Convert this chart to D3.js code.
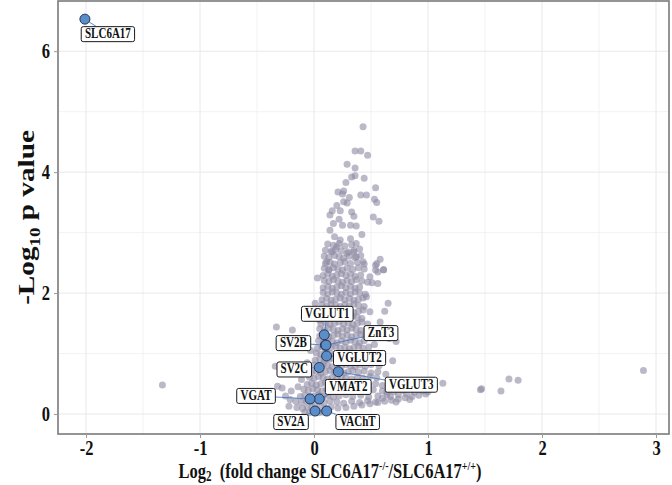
<!DOCTYPE html>
<html>
<head>
<meta charset="utf-8">
<script src="https://cdn.jsdelivr.net/npm/d3@7"></script>
<style>
  html, body { margin: 0; padding: 0; background: #ffffff; }
  svg { display: block; }
</style>
</head>
<body>
<svg id="chart" width="672" height="485"></svg>
<script>
// ---------------- DATA ----------------
const xTicks = [-2, -1, 0, 1, 2, 3];
const yTicks = [0, 2, 4, 6];
const xMinorGrid = [-1.5, -0.5, 0.5, 1.5, 2.5];
const yMinorGrid = [1, 3, 5];

// highlighted proteins: log2 fold change, -log10 p
const hlNames = ["SLC6A17", "VGLUT1", "SV2B", "ZnT3", "VGLUT2", "SV2C", "VGLUT3", "VMAT2", "VGAT", "SV2A", "VAChT"];
const hlLog2FC = [-2.01, 0.09, 0.10, 0.105, 0.11, 0.046, 0.213, 0.046, -0.035, 0.009, 0.111];
const hlLogP   = [6.53, 1.31, 1.14, 1.14, 0.96, 0.77, 0.70, 0.25, 0.25, 0.05, 0.05];

// all other quantified proteins [log2 fold change, -log10 p]
const otherProteins = [
  [0.43,4.75],[0.36,4.35],[0.41,4.35],[0.47,4.28],[0.29,4.13],[0.36,4.07],[0.33,3.92],[0.36,3.94],[0.44,3.90],[0.28,3.83],
  [0.54,3.74],[0.21,3.67],[0.26,3.69],[0.25,3.64],[0.31,3.58],[0.41,3.62],[0.46,3.62],[0.53,3.55],[0.55,3.50],[0.26,3.51],
  [0.29,3.49],[0.20,3.45],[0.16,3.36],[0.14,3.29],[0.23,3.36],[0.33,3.34],[0.35,3.27],[0.22,3.22],[0.52,3.26],[0.57,3.19],
  [0.17,3.15],[0.25,3.12],[0.32,3.12],[0.37,3.11],[0.14,3.04],[0.18,2.93],[0.23,2.88],[0.32,2.90],[0.37,2.82],[0.42,2.97],
  [0.20,2.77],[0.29,2.66],[0.35,2.68],[0.16,2.68],[0.37,2.60],[0.58,2.56],[0.54,2.46],[0.61,2.39],[0.56,2.35],[0.43,2.52],
  [0.11,2.52],[0.13,2.38],[0.49,2.27],[0.51,2.17],[0.56,2.16],[0.46,1.94],
  [0.12,2.81],[0.17,2.79],[0.22,2.82],[0.27,2.78],[0.33,2.80],
  [0.10,2.71],[0.15,2.69],[0.19,2.72],[0.24,2.70],[0.30,2.68],[0.35,2.71],[0.40,2.73],
  [0.09,2.61],[0.13,2.59],[0.18,2.62],[0.22,2.60],[0.26,2.58],[0.31,2.61],[0.36,2.59],[0.41,2.62],
  [0.10,2.49],[0.14,2.51],[0.18,2.48],[0.23,2.50],[0.27,2.52],[0.32,2.49],[0.38,2.51],[0.44,2.48],
  [0.09,2.41],[0.13,2.39],[0.17,2.42],[0.21,2.40],[0.25,2.38],[0.29,2.41],[0.34,2.39],[0.39,2.42],[0.44,2.40],
  [0.08,2.29],[0.12,2.31],[0.16,2.28],[0.20,2.30],[0.24,2.32],[0.28,2.29],[0.32,2.31],[0.36,2.28],[0.41,2.30],
  [0.09,2.21],[0.13,2.19],[0.17,2.22],[0.21,2.20],[0.25,2.18],[0.29,2.21],[0.33,2.19],[0.37,2.22],[0.42,2.20],[0.47,2.18],
  [0.08,2.09],[0.12,2.11],[0.16,2.08],[0.20,2.10],[0.24,2.12],[0.28,2.09],[0.32,2.11],[0.36,2.08],[0.40,2.10],
  [0.08,2.01],[0.12,1.99],[0.16,2.02],[0.20,2.00],[0.24,1.98],[0.28,2.01],[0.32,1.99],[0.36,2.02],[0.40,2.00],[0.45,1.98],
  [0.07,1.89],[0.11,1.91],[0.15,1.88],[0.19,1.90],[0.23,1.92],[0.27,1.89],[0.31,1.91],[0.35,1.88],[0.39,1.90],[0.43,1.92],
  [0.07,1.81],[0.11,1.79],[0.15,1.82],[0.19,1.80],[0.23,1.78],[0.27,1.81],[0.31,1.79],[0.35,1.82],[0.39,1.80],[0.44,1.78],
  [0.07,1.69],[0.11,1.71],[0.15,1.68],[0.19,1.70],[0.23,1.72],[0.27,1.69],[0.31,1.71],[0.35,1.68],[0.39,1.70],[0.43,1.72],[0.49,1.69],
  [0.06,1.61],[0.10,1.59],[0.14,1.62],[0.18,1.60],[0.22,1.58],[0.26,1.61],[0.30,1.59],[0.34,1.62],[0.38,1.60],[0.42,1.58],
  [0.06,1.49],[0.10,1.51],[0.14,1.48],[0.18,1.50],[0.22,1.52],[0.26,1.49],[0.30,1.51],[0.34,1.48],[0.38,1.50],[0.42,1.52],[0.47,1.49],
  [0.05,1.41],[0.09,1.39],[0.13,1.42],[0.17,1.40],[0.21,1.38],[0.25,1.41],[0.29,1.39],[0.33,1.42],[0.37,1.40],[0.41,1.38],[0.46,1.41],
  [0.05,1.29],[0.09,1.31],[0.13,1.28],[0.17,1.30],[0.21,1.32],[0.25,1.29],[0.29,1.31],[0.33,1.28],[0.37,1.30],[0.41,1.32],[0.45,1.29],
  [0.04,1.21],[0.08,1.19],[0.12,1.22],[0.16,1.20],[0.20,1.18],[0.24,1.21],[0.28,1.19],[0.32,1.22],[0.36,1.20],[0.40,1.18],[0.44,1.21],
  [0.03,1.09],[0.07,1.11],[0.11,1.08],[0.15,1.10],[0.19,1.12],[0.23,1.09],[0.27,1.11],[0.31,1.08],[0.35,1.10],[0.39,1.12],[0.43,1.09],[0.48,1.11],
  [0.02,1.01],[0.06,0.99],[0.10,1.02],[0.14,1.00],[0.18,0.98],[0.22,1.01],[0.26,0.99],[0.30,1.02],[0.34,1.00],[0.38,0.98],[0.42,1.01],[0.47,0.99],
  [0.01,0.89],[0.05,0.91],[0.09,0.88],[0.13,0.90],[0.17,0.92],[0.21,0.89],[0.25,0.91],[0.29,0.88],[0.33,0.90],[0.37,0.92],[0.41,0.89],[0.46,0.91],[0.52,0.88],
  [0.00,0.81],[0.04,0.79],[0.08,0.82],[0.12,0.80],[0.16,0.78],[0.20,0.81],[0.24,0.79],[0.28,0.82],[0.32,0.80],[0.36,0.78],[0.40,0.81],[0.45,0.79],[0.50,0.82],
  [-0.02,0.69],[0.02,0.71],[0.06,0.68],[0.10,0.70],[0.14,0.72],[0.18,0.69],[0.22,0.71],[0.26,0.68],[0.30,0.70],[0.34,0.72],[0.39,0.69],[0.44,0.71],[0.50,0.68],[0.56,0.70],
  [-0.04,0.61],[0.00,0.59],[0.04,0.62],[0.08,0.60],[0.12,0.58],[0.16,0.61],[0.20,0.59],[0.24,0.62],[0.28,0.60],[0.33,0.58],[0.38,0.61],[0.43,0.59],[0.49,0.62],[0.55,0.60],
  [-0.06,0.49],[-0.02,0.51],[0.02,0.48],[0.06,0.50],[0.10,0.52],[0.14,0.49],[0.18,0.51],[0.22,0.48],[0.27,0.50],[0.32,0.52],[0.37,0.49],[0.42,0.51],[0.48,0.48],[0.54,0.50],[0.60,0.47],
  [-0.09,0.41],[-0.05,0.39],[-0.01,0.42],[0.03,0.40],[0.07,0.38],[0.11,0.41],[0.15,0.39],[0.19,0.42],[0.24,0.40],[0.29,0.38],[0.34,0.41],[0.40,0.39],[0.46,0.42],[0.52,0.40],[0.60,0.38],
  [-0.12,0.29],[-0.08,0.31],[-0.04,0.28],[0.00,0.30],[0.04,0.32],[0.08,0.29],[0.12,0.31],[0.17,0.28],[0.22,0.30],[0.28,0.32],[0.34,0.29],[0.41,0.31],[0.48,0.28],[0.56,0.30],[0.64,0.32],
  [-0.16,0.21],[-0.11,0.19],[-0.07,0.22],[-0.03,0.20],[0.01,0.18],[0.05,0.21],[0.09,0.19],[0.14,0.22],[0.20,0.20],[0.26,0.18],[0.33,0.21],[0.40,0.19],[0.47,0.22],[0.54,0.20],
  [-0.15,0.11],[-0.10,0.09],[-0.06,0.12],[-0.02,0.10],[0.02,0.08],[0.06,0.11],[0.10,0.09],[0.15,0.12],[0.21,0.10],[0.28,0.11],[0.35,0.13],
  [-0.08,0.03],[-0.04,0.02],[0.00,0.04],[0.04,0.02],[0.08,0.03],[0.12,0.04],
  [0.42,0.15],[0.49,0.17],[0.56,0.19],[0.62,0.21],[0.68,0.23],[0.74,0.25],[0.80,0.27],[0.86,0.29],[0.92,0.31],[0.98,0.33],
  [0.60,0.26],[0.67,0.29],[0.74,0.32],[0.81,0.34],[0.88,0.36],[0.95,0.38],[1.00,0.37],
  [0.70,0.37],[0.78,0.39],[0.86,0.41],[0.64,0.36],[0.72,0.20],[0.84,0.24],
  [-0.33,1.44],[-0.19,1.39],[-0.34,0.79],[-0.32,0.46],[-0.28,0.43],[-0.25,0.30],[-0.21,0.24],[-0.20,0.38],[-0.22,0.13],
  [-0.14,0.45],[-0.11,0.57],[-0.62,0.24],[-0.57,0.27],[-1.33,0.48],
  [0.01,1.83],[0.05,1.55],[0.03,2.25],[-0.03,1.05],[-0.06,0.85],
  [0.55,2.49],[0.54,2.38],[0.61,2.38],[0.65,1.83],[0.62,1.70],[0.58,1.52],[0.55,1.35],[0.66,1.25],[0.72,1.20],[0.69,0.88],
  [0.60,1.00],[0.53,1.15],[0.57,0.80],[0.63,0.66],[0.70,0.55],
  [1.13,0.51],[1.46,0.40],[1.47,0.42],[1.64,0.38],[1.71,0.58],[1.79,0.56],[2.89,0.72]
];

// ---------------- LAYOUT ----------------
const panel = { left: 58, right: 669, top: 1, bottom: 434 };
const fontFam = "'Liberation Serif', 'Times New Roman', serif";
const stretch = 1.27; // glyphs in the figure are taller than wide

// label box offsets (pixels) from their point, as placed in the figure
const labelOffsets = {
  "SLC6A17": [23, 15], "VGLUT1": [3, -21], "SV2B": [-32, -2], "ZnT3": [55, -12],
  "VGLUT2": [33, 2], "SV2C": [-25, 2], "VGLUT3": [73, 13], "VMAT2": [29, -12],
  "VGAT": [-54, -3], "SV2A": [-24, 11], "VAChT": [31, 11]
};

const svg = d3.select("#chart");

const x = d3.scaleLinear().domain([-2.246, 3.114]).range([panel.left, panel.right]);
const y = d3.scaleLinear().domain([-0.33, 6.83]).range([panel.bottom, panel.top]);

// gridlines
const grid = svg.append("g");
grid.selectAll(".vminor").data(xMinorGrid).join("line")
  .attr("x1", d => x(d)).attr("x2", d => x(d)).attr("y1", panel.top).attr("y2", panel.bottom)
  .attr("stroke", "#efeff2").attr("stroke-width", 0.8);
grid.selectAll(".hminor").data(yMinorGrid).join("line")
  .attr("y1", d => y(d)).attr("y2", d => y(d)).attr("x1", panel.left).attr("x2", panel.right)
  .attr("stroke", "#efeff2").attr("stroke-width", 0.8);
grid.selectAll(".vmajor").data(xTicks).join("line")
  .attr("x1", d => x(d)).attr("x2", d => x(d)).attr("y1", panel.top).attr("y2", panel.bottom)
  .attr("stroke", "#e8e8ec").attr("stroke-width", 1);
grid.selectAll(".hmajor").data(yTicks).join("line")
  .attr("y1", d => y(d)).attr("y2", d => y(d)).attr("x1", panel.left).attr("x2", panel.right)
  .attr("stroke", "#e8e8ec").attr("stroke-width", 1);

// grey cloud
svg.append("g").selectAll("circle").data(otherProteins).join("circle")
  .attr("cx", d => x(d[0])).attr("cy", d => y(d[1])).attr("r", 3.5)
  .attr("fill", "#8e8ba4").attr("fill-opacity", 0.6);

// highlighted
const hl = hlNames.map((n, i) => ({ name: n, fc: hlLog2FC[i], p: hlLogP[i] }));

const measure = svg.append("text").attr("font-family", fontFam).attr("font-weight", "bold").attr("font-size", 11);
hl.forEach(d => {
  measure.text(d.name);
  const bb = measure.node().getBBox();
  d.w = bb.width + 7;
  d.h = 15;
  d.px = x(d.fc); d.py = y(d.p);
  const off = labelOffsets[d.name];
  d.cx = d.px + off[0]; d.cy = d.py + off[1];
});
measure.remove();

function boxEdge(d) {
  const dx = d.px - d.cx, dy = d.py - d.cy;
  const hw = d.w / 2, hh = d.h / 2;
  const t = Math.min(dx !== 0 ? hw / Math.abs(dx) : Infinity, dy !== 0 ? hh / Math.abs(dy) : Infinity);
  return [d.cx + dx * t, d.cy + dy * t];
}
svg.append("g").selectAll("line").data(hl).join("line")
  .attr("x1", d => d.px).attr("y1", d => d.py)
  .attr("x2", d => boxEdge(d)[0]).attr("y2", d => boxEdge(d)[1])
  .attr("stroke", "#4a7cc2").attr("stroke-width", 0.9);

svg.append("g").selectAll("circle").data(hl).join("circle")
  .attr("cx", d => d.px).attr("cy", d => d.py).attr("r", 5)
  .attr("fill", "#5b8ec8").attr("stroke", "#22385a").attr("stroke-width", 1);

const lab = svg.append("g").selectAll("g").data(hl).join("g")
  .attr("transform", d => `translate(${d.cx},${d.cy})`);
lab.append("rect")
  .attr("x", d => -d.w / 2).attr("y", d => -d.h / 2).attr("width", d => d.w).attr("height", d => d.h)
  .attr("rx", 2).attr("fill", "#ffffff").attr("stroke", "#1a1a1a").attr("stroke-width", 1);
lab.append("text")
  .attr("transform", `scale(1,${stretch})`)
  .attr("text-anchor", "middle").attr("y", 3.1)
  .attr("font-family", fontFam).attr("font-weight", "bold").attr("font-size", 11).attr("fill", "#111")
  .text(d => d.name);

// panel border
svg.append("rect")
  .attr("x", panel.left).attr("y", panel.top)
  .attr("width", panel.right - panel.left).attr("height", panel.bottom - panel.top)
  .attr("fill", "none").attr("stroke", "#7a7a7a").attr("stroke-width", 1.6);

// axes
const xAxis = svg.append("g").attr("transform", `translate(0,${panel.bottom})`)
  .call(d3.axisBottom(x).tickValues(xTicks).tickSize(4).tickPadding(0.5).tickFormat(d3.format("d")));
const yAxis = svg.append("g").attr("transform", `translate(${panel.left},0)`)
  .call(d3.axisLeft(y).tickValues(yTicks).tickSize(4).tickPadding(4).tickFormat(d3.format("d")));
[xAxis, yAxis].forEach(a => {
  a.select(".domain").remove();
  a.selectAll(".tick line").attr("stroke", "#9a9a9a");
  a.selectAll(".tick text")
    .attr("transform", `scale(1,${stretch})`)
    .attr("font-family", fontFam).attr("font-weight", "bold").attr("font-size", 16.5).attr("fill", "#111");
});
xAxis.selectAll(".tick text").text(d => d < 0 ? "-" + Math.abs(d) : d);

// axis titles
const xt = svg.append("text")
  .attr("transform", `translate(330,477.5) scale(1,${stretch})`)
  .attr("text-anchor", "middle")
  .attr("font-family", fontFam).attr("font-weight", "bold").attr("font-size", 16.5).attr("fill", "#111");
xt.append("tspan").text("Log");
xt.append("tspan").attr("font-size", 11).attr("dy", 3).text("2");
xt.append("tspan").attr("dy", -3).text("\u00a0 (fold change SLC6A17");
xt.append("tspan").attr("font-size", 10).attr("dy", -6).text("-/-");
xt.append("tspan").attr("dy", 6).text("/SLC6A17");
xt.append("tspan").attr("font-size", 10).attr("dy", -6).text("+/+");
xt.append("tspan").attr("dy", 6).text(")");

const yt = svg.append("text")
  .attr("transform", `translate(34,${(panel.top + panel.bottom) / 2}) rotate(-90) scale(${stretch},1)`)
  .attr("text-anchor", "middle")
  .attr("font-family", fontFam).attr("font-weight", "bold").attr("font-size", 23).attr("fill", "#111");
yt.append("tspan").text("-Log");
yt.append("tspan").attr("font-size", 15).attr("dy", 6).text("10");
yt.append("tspan").attr("dy", -6).text(" p value");
</script>
</body>
</html>
